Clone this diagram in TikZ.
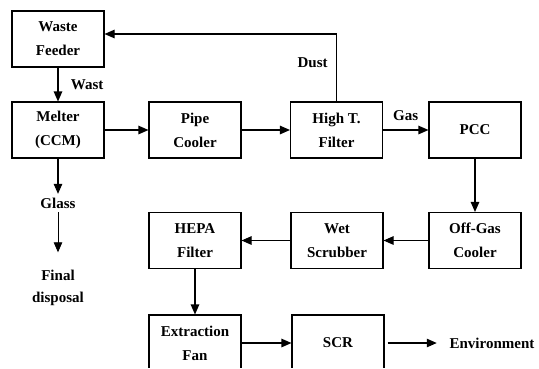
\documentclass[tikz,border=0pt]{standalone}
\usepackage{fontspec}
\setmainfont{Liberation Serif}
\usetikzlibrary{positioning,arrows.meta}

\begin{document}
\begin{tikzpicture}[x=1pt, y=-1pt, >={Triangle[length=10pt,width=8.5pt]}, line width=1.1pt,
    unit/.style={draw, align=center, minimum width=92pt, minimum height=56pt, inner sep=0pt,
      font=\bfseries\fontsize{15}{24}\selectfont},
    tag/.style={align=center, font=\bfseries\fontsize{15}{22}\selectfont}]

    \useasboundingbox (0,0) rectangle (539,368);
    \clip (0,0) rectangle (539,367);

    % process units
    \foreach \n/\x/\y/\t in {feeder/58/39/{Waste\\Feeder}, melter/58/130/{Melter\\(CCM)},
        pipe/195/130/{Pipe\\Cooler}, hightf/336.5/130/{High T.\\Filter}, pcc/475/130/{PCC},
        offgas/475/240.5/{Off-Gas\\Cooler}, wet/337/240.5/{Wet\\Scrubber},
        hepa/195/240.5/{HEPA\\Filter}, fan/195/343/{Extraction\\Fan}, scr/338/343/{SCR}}
      \node [unit] (\n) at (\x,\y) {\t};

    % free labels
    \node [tag] (glass) at (58,203) {Glass};
    \node [tag] (final) at (58,288) {Final\\disposal};
    \node [tag] (env) at (492,343) {Environment};
    \coordinate (dustturn) at (337,34);

    % flows
    \draw [->] (feeder) -- node [right=9pt, midway, tag] {Wast} (melter);
    \draw [->] (melter) -- (pipe);
    \draw [->] (pipe) -- (hightf);
    \draw [->] (hightf) -- node [above=5pt, midway, tag] {Gas} (pcc);
    \draw [->] (hightf.north) -- node [left=5pt, pos=0.57, tag] {Dust} (hightf.north |- dustturn)
      -- (feeder.east |- dustturn);
    \draw [->] (pcc) -- (offgas);
    \draw [->] (offgas) -- (wet);
    \draw [->] (wet) -- (hepa);
    \draw [->] (hepa) -- (fan);
    \draw [->] (fan) -- (scr);
    \draw [->, shorten <=3pt, shorten >=9pt] (scr) -- (env);
    \draw [->] (melter) -- (glass);
    \draw [->, line width=0.8pt, shorten >=14pt] (glass) -- (final);
\end{tikzpicture}
\end{document}
